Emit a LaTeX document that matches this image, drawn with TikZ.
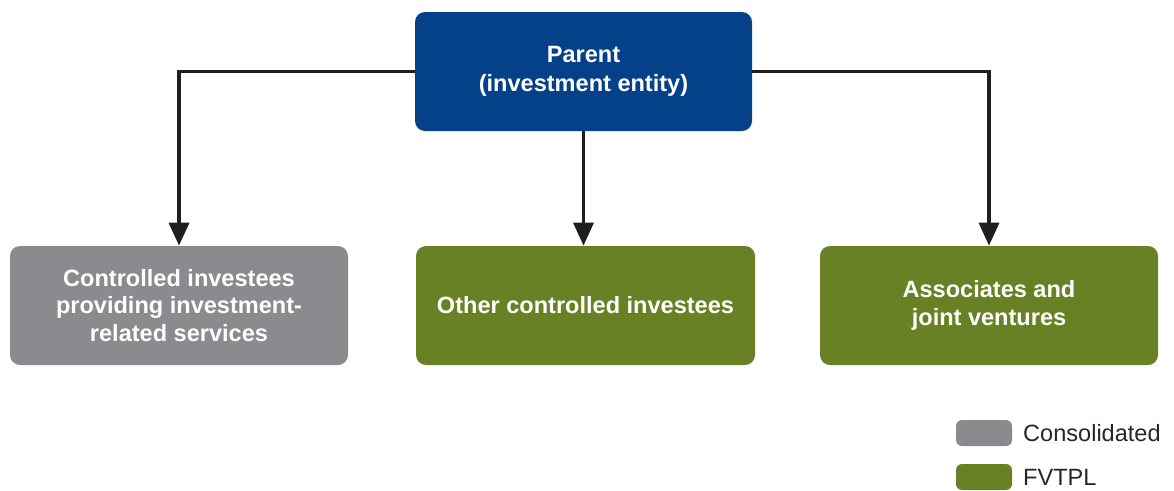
\documentclass[tikz,border=0pt]{standalone}
\usepackage{fontspec}
\setmainfont{Liberation Sans}
\usetikzlibrary{arrows.meta}

\definecolor{parentblue}{RGB}{4,65,137}
\definecolor{consgray}{RGB}{139,139,143}
\definecolor{fvgreen}{RGB}{104,129,36}

\tikzset{
  entity/.style={rounded corners=0.2cm, minimum width=6.76cm, minimum height=2.38cm,
    text=white, align=center, font=\bfseries\fontsize{13.4}{15.5}\selectfont},
  link/.style={line width=2pt, draw=black!88, -{Triangle[width=0.4cm, length=0.46cm]}},
  swatch/.style={rounded corners=0.12cm, minimum width=1.12cm, minimum height=0.52cm},
  legendtext/.style={anchor=west, text=black!85, font=\fontsize{13.4}{15.5}\selectfont}
}

\begin{document}
\begin{tikzpicture}
\useasboundingbox (0,0) rectangle (23.48,9.8);

% boxes
\node[entity, fill=parentblue, minimum width=6.74cm, font=\bfseries\fontsize{13.4}{16.4}\selectfont] (parent) at (11.67, 8.37) {Parent\\(investment entity)};
\node[entity, fill=consgray] (services) at (3.58, 3.69) {Controlled investees\\providing investment-\\related services};
\node[entity, fill=fvgreen, minimum width=6.78cm] (othercontrolled) at (11.71, 3.69) {Other controlled investees};
\node[entity, fill=fvgreen] (associates) at (19.78, 3.69) {Associates and\\joint ventures};

% connectors
\draw[link] (parent.west) -| (services.north);
\draw[link] (parent.south) -- (parent.south |- othercontrolled.north);
\draw[link] (parent.east) -| (associates.north);

% legend
\node[swatch, fill=consgray] (conskey) at (19.68, 1.14) {};
\node[legendtext] (conslabel) at (20.34, 1.14) {Consolidated};
\node[swatch, fill=fvgreen] (fvkey) at (19.68, 0.26) {};
\node[legendtext] (fvlabel) at (20.34, 0.26) {FVTPL};

\end{tikzpicture}
\end{document}
